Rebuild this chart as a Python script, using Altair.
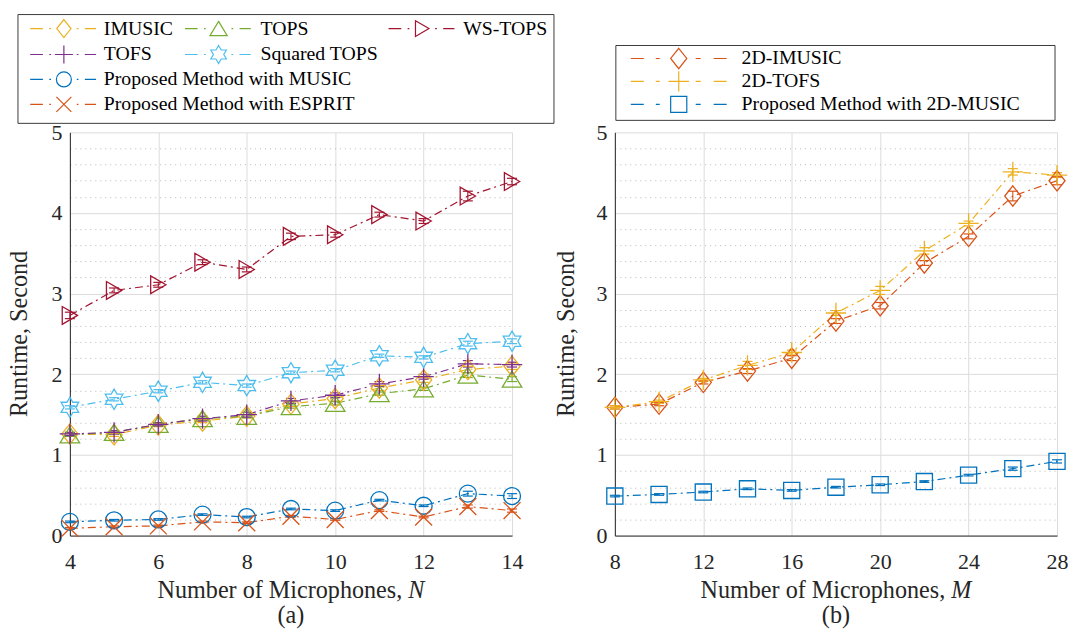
import math
import altair as alt
import pandas as pd

FONT = "Liberation Serif"
AX = "#262626"

# ---------------- data: panel (a) ----------------
N_vals = [4, 5, 6, 7, 8, 9, 10, 11, 12, 13, 14]
a_series = ["IMUSIC", "TOPS", "WS-TOPS", "TOFS", "Squared TOPS",
            "Proposed Method with MUSIC", "Proposed Method with ESPRIT"]
imusic = [1.26, 1.25, 1.37, 1.42, 1.48, 1.63, 1.70, 1.83, 1.93, 2.06, 2.10]
tops = [1.25, 1.28, 1.38, 1.45, 1.48, 1.60, 1.64, 1.76, 1.82, 1.99, 1.94]
ws_tops = [2.73, 3.04, 3.11, 3.39, 3.30, 3.71, 3.73, 3.98, 3.90, 4.21, 4.39]
tofs = [1.26, 1.28, 1.38, 1.45, 1.50, 1.67, 1.74, 1.88, 1.97, 2.13, 2.12]
sq_tops = [1.59, 1.69, 1.79, 1.90, 1.86, 2.02, 2.05, 2.23, 2.21, 2.38, 2.41]
music_a = [0.17, 0.19, 0.20, 0.26, 0.23, 0.33, 0.31, 0.44, 0.37, 0.52, 0.49]
esprit_a = [0.09, 0.11, 0.12, 0.17, 0.16, 0.24, 0.20, 0.31, 0.23, 0.36, 0.31]

imusic_err = [0.02, 0.02, 0.02, 0.02, 0.02, 0.03, 0.03, 0.03, 0.03, 0.04, 0.04]
tops_err = [0.02, 0.02, 0.02, 0.02, 0.02, 0.02, 0.02, 0.02, 0.02, 0.03, 0.03]
ws_tops_err = [0.04, 0.03, 0.03, 0.03, 0.03, 0.04, 0.03, 0.03, 0.03, 0.06, 0.04]
tofs_err = [0.02, 0.02, 0.02, 0.03, 0.03, 0.03, 0.03, 0.03, 0.03, 0.04, 0.03]
sq_tops_err = [0.02, 0.02, 0.02, 0.02, 0.02, 0.02, 0.02, 0.02, 0.02, 0.03, 0.03]
music_a_err = [0.01, 0.01, 0.01, 0.01, 0.01, 0.01, 0.01, 0.01, 0.01, 0.03, 0.03]
esprit_a_err = [0.01, 0.01, 0.01, 0.01, 0.01, 0.01, 0.01, 0.01, 0.01, 0.02, 0.02]

a_values = [imusic, tops, ws_tops, tofs, sq_tops, music_a, esprit_a]
a_errors = [imusic_err, tops_err, ws_tops_err, tofs_err, sq_tops_err, music_a_err, esprit_a_err]
a_colors = ["#EDB120", "#77AC30", "#A2142F", "#7E2F8E", "#4DBEEE", "#0072BD", "#D95319"]

# ---------------- data: panel (b) ----------------
M_vals = [8, 10, 12, 14, 16, 18, 20, 22, 24, 26, 28]
b_series = ["2D-IMUSIC", "2D-TOFS", "Proposed Method with 2D-MUSIC"]
imusic_2d = [1.59, 1.63, 1.90, 2.04, 2.20, 2.66, 2.85, 3.38, 3.71, 4.21, 4.40]
tofs_2d = [1.59, 1.66, 1.93, 2.11, 2.27, 2.76, 3.04, 3.53, 3.87, 4.51, 4.47]
music_2d = [0.49, 0.51, 0.54, 0.58, 0.56, 0.60, 0.63, 0.67, 0.75, 0.83, 0.92]
imusic_2d_err = [0.02, 0.02, 0.02, 0.03, 0.03, 0.03, 0.04, 0.03, 0.03, 0.06, 0.05]
tofs_2d_err = [0.02, 0.02, 0.02, 0.05, 0.03, 0.03, 0.05, 0.04, 0.03, 0.04, 0.03]
music_2d_err = [0.01, 0.01, 0.01, 0.01, 0.01, 0.01, 0.01, 0.01, 0.01, 0.02, 0.02]
b_values = [imusic_2d, tofs_2d, music_2d]
b_errors = [imusic_2d_err, tofs_2d_err, music_2d_err]
b_colors = ["#D95319", "#EDB120", "#0072BD"]

y_ticks = [round(i * 0.2, 1) for i in range(26)]
a_xticks = [4, 6, 8, 10, 12, 14]
b_xticks = [8, 12, 16, 20, 24, 28]

# ---------------- marker shapes (unit paths) ----------------
def hexagram(R):
    pts = []
    for k in range(12):
        ang = math.radians(-90 + 30 * k)
        r = R if k % 2 == 0 else R / math.sqrt(3)
        pts.append(f"{r*math.cos(ang):.3f},{r*math.sin(ang):.3f}")
    return "M" + "L".join(pts) + "Z"

SHP = {
    "diamond": "M0,-1.2L0.95,0L0,1.2L-0.95,0Z",
    "tri_up": "M0,-0.95L1.15,0.95L-1.15,0.95Z",
    "tri_right": "M0.9,0L-0.9,-1.05L-0.9,1.05Z",
    "plus": "M-1.2,0L1.2,0M0,-1.2L0,1.2",
    "hexagram": hexagram(1.2),
    "circle": "M1,0A1,1,0,1,1,-1,0A1,1,0,1,1,1,0Z",
    "x": "M-1,-1L1,1M-1,1L1,-1",
    "square": "M-0.95,-0.95L0.95,-0.95L0.95,0.95L-0.95,0.95Z",
}
a_shapes = [SHP["diamond"], SHP["tri_up"], SHP["tri_right"], SHP["plus"],
            SHP["hexagram"], SHP["circle"], SHP["x"]]
b_shapes = [SHP["diamond"], SHP["plus"], SHP["square"]]


def seg(a, b):
    return f"M{a:.2f},0L{b:.2f},0"


def legend_path(marker, segs):
    return "".join(seg(a, b) for a, b in segs) + marker


A_LEG_SEGS = [(-4.5, -2.8), (-1.95, -1.72), (1.72, 1.95), (2.8, 4.3)]
B_LEG_SEGS = [(-5.65, -4.12), (-2.7, -2.24), (2.0, 2.59), (4.12, 5.65)]

W, H = 443, 404
ONE = alt.Data(values=[{}])


def txt(text, x, y, size, align="center", baseline="alphabetic", angle=0,
        style="normal", color=AX):
    kw = dict(text=text, font=FONT, fontSize=size, color=color, align=align,
              baseline=baseline, fontStyle=style)
    if angle:
        kw["angle"] = angle
    return alt.Chart(ONE).mark_text(**kw).encode(x=alt.value(x), y=alt.value(y))


def build_panel(xs, series, values, errors, colors, shapes, x_domain, x_ticks,
                legend_items, legend_box, leg_size, leg_segs, ytitle_x,
                var_name, sub, comma_end, var_x, frame=None):
    rows = []
    for s, vals, errs in zip(series, values, errors):
        for x, v, e in zip(xs, vals, errs):
            rows.append(dict(series=s, x=x, y=v, lo=v - e, hi=v + e))
    df = pd.DataFrame(rows)

    xsc = alt.Scale(domain=x_domain, nice=False, zero=False)
    ysc = alt.Scale(domain=[0, 5], nice=False, zero=False)
    color = alt.Color("series:N", scale=alt.Scale(domain=series, range=colors), legend=None)
    shape = alt.Shape("series:N", scale=alt.Scale(domain=series, range=shapes), legend=None)

    minor = "abs(datum.value - round(datum.value)) > 0.01"
    x_axis = alt.Axis(values=x_ticks, title=None, grid=True, gridColor="#dcdcdc",
                      gridWidth=1, ticks=False, domainColor=AX, domainWidth=1,
                      labelFont=FONT, labelFontSize=22, labelColor=AX,
                      labelPadding=33, labelBaseline="alphabetic", labelAngle=0,
                      labelFlush=False, labelOverlap=False)
    y_axis = alt.Axis(values=y_ticks, title=None, grid=True,
                      gridColor={"condition": {"test": minor, "value": "#b8b8b8"},
                                 "value": "#dcdcdc"},
                      gridDash={"condition": {"test": minor, "value": [1, 4]},
                                "value": []},
                      gridWidth=1, ticks=False, domainColor=AX, domainWidth=1,
                      labelExpr="abs(datum.value - round(datum.value)) < 0.01 ? format(datum.value, 'd') : ''",
                      labelFont=FONT, labelFontSize=22, labelColor=AX,
                      labelPadding=8, labelBaseline="middle", labelOverlap=False,
                      labelFlush=False)

    X = alt.X("x:Q", scale=xsc, axis=x_axis)
    base = alt.Chart(df)
    lines = base.mark_line(strokeDash=[8, 4, 2, 4], strokeWidth=1.2).encode(
        x=X, y=alt.Y("y:Q", scale=ysc, axis=y_axis), color=color,
    )
    ebar = base.mark_rule(strokeWidth=1.1).encode(
        x=X, y=alt.Y("lo:Q", scale=ysc, axis=y_axis), y2="hi:Q", color=color,
    )
    cap_lo = base.mark_point(shape="M-1,0L1,0", size=100, filled=False,
                             strokeWidth=1.2, opacity=1).encode(
        x=X, y=alt.Y("lo:Q", scale=ysc, axis=y_axis), color=color,
    )
    cap_hi = base.mark_point(shape="M-1,0L1,0", size=100, filled=False,
                             strokeWidth=1.2, opacity=1).encode(
        x=X, y=alt.Y("hi:Q", scale=ysc, axis=y_axis), color=color,
    )
    pts = base.mark_point(size=289, filled=False, strokeWidth=1.3, opacity=1).encode(
        x=X, y=alt.Y("y:Q", scale=ysc, axis=y_axis), color=color, shape=shape,
    )

    layers = [lines, ebar, cap_lo, cap_hi, pts]
    if frame is not None:
        # transparent frame that fixes the page extent to 1070 x 630
        fx1, fx2, fy1, fy2 = frame
        layers.insert(0, alt.Chart(ONE).mark_rect(opacity=0, fill="white", strokeWidth=0).encode(
            x=alt.value(fx1), x2=alt.value(fx2), y=alt.value(fy1), y2=alt.value(fy2)))

    # axis titles
    layers.append(txt("Runtime, Second", ytitle_x, H / 2, 24.2, baseline="middle", angle=270))
    layers.append(txt("Number of Microphones,", comma_end, H + 63, 24.2, align="right"))
    layers.append(txt(var_name, var_x, H + 63, 24.2, align="left", style="italic"))
    layers.append(txt(sub, W / 2, H + 88, 24.2))

    # legend
    lx1, lx2, ly1, ly2 = legend_box
    layers.append(alt.Chart(ONE).mark_rect(fill="white", stroke=AX, strokeWidth=0.9).encode(
        x=alt.value(lx1), x2=alt.value(lx2), y=alt.value(ly1), y2=alt.value(ly2)))
    for name, mx, tx, ty in legend_items:
        i = series.index(name)
        layers.append(alt.Chart(ONE).mark_point(
            shape=legend_path(shapes[i], leg_segs), size=leg_size, filled=False,
            strokeWidth=1.2, opacity=1, color=colors[i]).encode(
            x=alt.value(mx), y=alt.value(ty)))
        layers.append(txt(name, tx, ty, 19.8, align="left", baseline="middle", color="black"))

    return alt.layer(*layers).properties(width=W, height=H)


a_legend = [
    ("IMUSIC", -6, 34, -104),
    ("TOPS", 149, 191, -104),
    ("WS-TOPS", 353, 394, -104),
    ("TOFS", -6, 34, -78),
    ("Squared TOPS", 149, 191, -78),
    ("Proposed Method with MUSIC", -6, 34, -53),
    ("Proposed Method with ESPRIT", -6, 34, -28),
]
b_legend = [
    ("2D-IMUSIC", 64, 127, -74),
    ("2D-TOFS", 64, 127, -51),
    ("Proposed Method with 2D-MUSIC", 64, 127, -28),
]

left = build_panel(N_vals, a_series, a_values, a_errors, a_colors, a_shapes,
                   [4, 14], a_xticks, a_legend, (-52, 485, -118, -9), 225,
                   A_LEG_SEGS, -50, "N", "(a)", 333, 339,
                   frame=(-70, 1000, -132, 498))
right = build_panel(M_vals, b_series, b_values, b_errors, b_colors, b_shapes,
                    [8, 28], b_xticks, b_legend, (1, 441, -87, -12), 289,
                    B_LEG_SEGS, -48, "M", "(b)", 331, 337)

chart = alt.hconcat(left, right, spacing=103, bounds="flush").resolve_scale(
    color="independent", shape="independent", x="independent", y="independent"
).properties(
    padding=0, background="white"
).configure_view(stroke=None)

chart.save("out.html", embed_options={"renderer": "svg", "actions": False})
